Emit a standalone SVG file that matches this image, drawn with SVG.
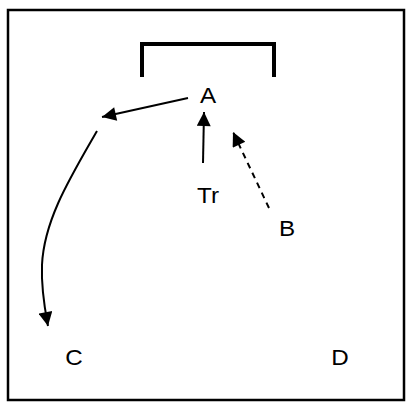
<svg xmlns="http://www.w3.org/2000/svg" width="408" height="408" viewBox="0 0 408 408">
<defs>
<style>
.lbl{font-family:"Liberation Sans",Arial,sans-serif;font-size:22px;fill:#000;text-anchor:middle}
.ln{fill:none;stroke:#000;stroke-width:2}
</style>
<marker id="ahb" viewBox="0 0 10 10" refX="10" refY="5" markerWidth="16" markerHeight="14" markerUnits="userSpaceOnUse" orient="auto">
<path d="M0,0 L10,5 L0,10 z" fill="#000"/>
</marker>
</defs>
<rect x="0" y="0" width="408" height="408" fill="#fff"/>
<rect x="8" y="10" width="396" height="390" fill="none" stroke="#000" stroke-width="2.5"/>
<path d="M142,77 V44 H274 V77" fill="none" stroke="#000" stroke-width="4"/>
<g id="connectors">
<line class="ln" x1="188" y1="98" x2="102" y2="117" marker-end="url(#ahb)"/>
<path class="ln" stroke-width="2.5" d="M97,131 C70,178 44,220 42,265 C41,290 45,310 48,326" marker-end="url(#ahb)"/>
<line class="ln" x1="203" y1="163" x2="204" y2="112" marker-end="url(#ahb)"/>
<line class="ln" x1="269" y1="208" x2="233" y2="132" stroke-dasharray="6,5" marker-end="url(#ahb)"/>
</g>
<g id="A"><text class="lbl" x="208" y="103" transform="translate(208 0) scale(1.1 1) translate(-208 0)">A</text></g>
<g id="Tr"><text class="lbl" x="208" y="203" transform="translate(208 0) scale(1.1 1) translate(-208 0)">Tr</text></g>
<g id="B"><text class="lbl" x="287" y="236" transform="translate(287 0) scale(1.1 1) translate(-287 0)">B</text></g>
<g id="C"><text class="lbl" x="74" y="365" transform="translate(74 0) scale(1.1 1) translate(-74 0)">C</text></g>
<g id="D"><text class="lbl" x="340" y="365" transform="translate(340 0) scale(1.1 1) translate(-340 0)">D</text></g>
</svg>
